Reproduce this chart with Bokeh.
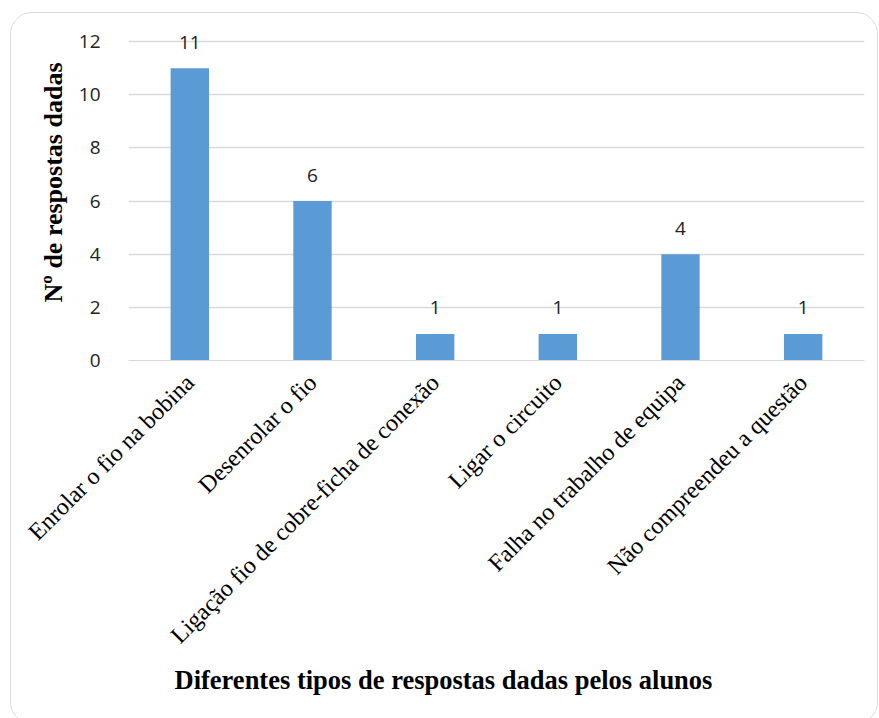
import math
from bokeh.plotting import figure
from bokeh.models import ColumnDataSource, FactorRange, Range1d, FixedTicker, Title
from bokeh.embed import file_html
from bokeh.resources import INLINE
from bokeh.core.properties import value

categories = [
    "Enrolar o fio na bobina",
    "Desenrolar o fio",
    "Ligação fio de cobre-ficha de conexão",
    "Ligar o circuito",
    "Falha no trabalho de equipa",
    "Não compreendeu a questão",
]
counts = [11, 6, 1, 1, 4, 1]
y_ticks = [0, 2, 4, 6, 8, 10, 12]
y_title = "Nº de respostas dadas"
x_title = "Diferentes tipos de respostas dadas pelos alunos"

src = ColumnDataSource(dict(cat=categories, count=counts, label=[str(c) for c in counts]))

p = figure(
    x_range=FactorRange(*categories, range_padding=0),
    y_range=Range1d(0, 12.98),
    width=868, height=712,
    output_backend="svg", toolbar_location=None,
    min_border_left=117, min_border_top=2, min_border_right=15, min_border_bottom=365,
)
p.margin = (12, 0, 0, 10)
p.styles = {"border": "1px solid #d9d9d9", "border-radius": "22px", "overflow": "hidden"}
p.outline_line_color = None
p.background_fill_color = "white"
p.border_fill_color = "white"

p.vbar(x="cat", top="count", width=0.313, source=src, fill_color="#5B9BD5", line_color=None)
p.text(x="cat", y="count", text="label", source=src, y_offset=-26,
       text_align="center", text_baseline="alphabetic",
       text_font=value("Open Sans"), text_font_size="19px", text_color="#222222")

p.xgrid.grid_line_color = None
p.ygrid.grid_line_color = "#d9d9d9"
p.ygrid.grid_line_width = 1.3

p.yaxis.ticker = FixedTicker(ticks=y_ticks)
p.yaxis.axis_line_color = None
p.yaxis.major_tick_line_color = None
p.yaxis.minor_tick_line_color = None
p.yaxis.major_label_standoff = 22
p.yaxis.major_label_text_font = "Open Sans"
p.yaxis.major_label_text_font_size = "19px"
p.yaxis.major_label_text_color = "#222222"

p.xaxis.axis_line_color = "#d9d9d9"
p.xaxis.major_tick_line_color = None
p.xaxis.minor_tick_line_color = None
p.xaxis.major_label_orientation = math.pi / 4
p.xaxis.major_label_standoff = 12
p.xaxis.major_label_text_font = "Liberation Serif"
p.xaxis.major_label_text_font_size = "24px"
p.xaxis.major_label_text_color = "black"

yt = Title(text=y_title, align="right", offset=47, standoff=15,
           text_font="Liberation Serif", text_font_style="bold",
           text_font_size="26px", text_color="black")
p.add_layout(yt, "left")

xt = Title(text=x_title, align="left", offset=46, standoff=4,
           text_font="Liberation Serif", text_font_style="bold",
           text_font_size="26.5px", text_color="black")
p.add_layout(xt, "below")

open("out.html", "w").write(file_html(p, INLINE))
